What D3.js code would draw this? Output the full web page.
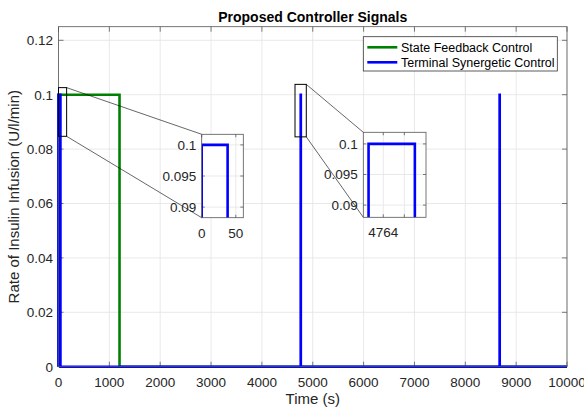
<!DOCTYPE html>
<html>
<head>
<meta charset="utf-8">
<script src="https://cdn.jsdelivr.net/npm/d3@7"></script>
<style>
  body { margin: 0; background: #fff; }
  svg { display: block; font-family: 'Liberation Sans', Arial, sans-serif; }
</style>
</head>
<body>
<div class="chart"></div>
<script>
// Data

const timeTicks = [0, 1000, 2000, 3000, 4000, 5000, 6000, 7000, 8000, 9000, 10000]
const rateTicks = [0, 0.02, 0.04, 0.06, 0.08, 0.1, 0.12]

const stateFeedbackT = [0, 0, 1200, 1200, 10000]
const stateFeedbackU = [0, 0.1, 0.1, 0, 0]

const synergeticT = [0, 0, 38, 38, 4763.3, 4763.3, 4765.5, 4765.5, 8675, 8675, 8677, 8677, 10000]
const synergeticU = [0, 0.1, 0.1, 0, 0, 0.1, 0.1, 0, 0, 0.1, 0.1, 0, 0]

const seriesNames = ['State Feedback Control', 'Terminal Synergetic Control']

// zoom boxes on the main axes: [t0, t1, u0, u1]
const zoomBox1 = [0, 160, 0.0847, 0.1026]
const zoomBox2 = [4651, 4873, 0.0845, 0.1038]

// inset 1
const inset1T = [0, 61]
const inset1U = [0.0883, 0.1017]
const inset1TTicks = [0, 50]
const inset1UTicks = [0.09, 0.095, 0.1]

// inset 2
const inset2T = [4763.05, 4766.03]
const inset2U = [0.088, 0.1019]
const inset2TTicks = [4764, 4765]
const inset2TLabels = ['4764', '']
const inset2UTicks = [0.09, 0.095, 0.1]

// Chart

const W = 584
const H = 409
const plot = {left: 58.5, right: 567, top: 26.7, bottom: 366.7}

const axisColor = '#262626'
const gridColor = '#e3e3e3'
const green = '#008000'
const blue = '#0000ff'

const svg = d3.select('.chart')
  .append('svg')
    .attr('width', W)
    .attr('height', H)

const x = d3.scaleLinear().domain([0, 10000]).range([plot.left, plot.right])
const y = d3.scaleLinear().domain([0, 0.125]).range([plot.bottom, plot.top])

const fmt = (v) => d3.format('~g')(+v.toFixed(4))

const zip = (ts, us) => ts.map((t, i) => [t, us[i]])

const drawAxes = (g, sx, sy, xt, yt, xl, yl, tickLen) => {
  const [x0, x1] = sx.range()
  const [y0, y1] = sy.range()

  g.append('rect')
      .attr('x', x0).attr('y', y1)
      .attr('width', x1 - x0).attr('height', y0 - y1)
      .attr('fill', '#fff')

  g.append('g').selectAll('line')
      .data(xt)
    .enter().append('line')
      .attr('x1', (d) => sx(d)).attr('x2', (d) => sx(d))
      .attr('y1', y0).attr('y2', y1)
      .attr('stroke', gridColor).attr('stroke-width', 0.8)

  g.append('g').selectAll('line')
      .data(yt)
    .enter().append('line')
      .attr('x1', x0).attr('x2', x1)
      .attr('y1', (d) => sy(d)).attr('y2', (d) => sy(d))
      .attr('stroke', gridColor).attr('stroke-width', 0.8)

  const ticks = g.append('g')
    .attr('stroke', axisColor).attr('stroke-width', 0.6)

  xt.forEach((d) => {
    ticks.append('line').attr('x1', sx(d)).attr('x2', sx(d)).attr('y1', y0).attr('y2', y0 - tickLen)
    ticks.append('line').attr('x1', sx(d)).attr('x2', sx(d)).attr('y1', y1).attr('y2', y1 + tickLen)
  })
  yt.forEach((d) => {
    ticks.append('line').attr('x1', x0).attr('x2', x0 + tickLen).attr('y1', sy(d)).attr('y2', sy(d))
    ticks.append('line').attr('x1', x1).attr('x2', x1 - tickLen).attr('y1', sy(d)).attr('y2', sy(d))
  })

  g.append('g').selectAll('text')
      .data(xt)
    .enter().append('text')
      .attr('x', (d) => sx(d))
      .attr('y', y0 + 20)
      .attr('text-anchor', 'middle')
      .attr('font-size', 13.5)
      .attr('fill', axisColor)
      .text((d, i) => xl ? xl[i] : fmt(d))

  g.append('g').selectAll('text')
      .data(yt)
    .enter().append('text')
      .attr('x', x0 - 5.5)
      .attr('y', (d) => sy(d) + 4.8)
      .attr('text-anchor', 'end')
      .attr('font-size', 13.5)
      .attr('fill', axisColor)
      .text((d, i) => yl ? yl[i] : fmt(d))
}

const drawBox = (g, sx, sy) => {
  const [x0, x1] = sx.range()
  const [y0, y1] = sy.range()
  g.append('rect')
      .attr('x', x0).attr('y', y1)
      .attr('width', x1 - x0).attr('height', y0 - y1)
      .attr('fill', 'none')
      .attr('stroke', '#555').attr('stroke-width', 0.8)
}

const drawLine = (g, sx, sy, pts, color, clipId) => {
  g.append('path')
      .datum(pts)
      .attr('clip-path', clipId ? `url(#${clipId})` : null)
      .attr('d', d3.line().x((d) => sx(d[0])).y((d) => sy(d[1])))
      .attr('fill', 'none')
      .attr('stroke', color)
      .attr('stroke-width', 2.6)
}

// Main axes
const main = svg.append('g')
drawAxes(main, x, y, timeTicks, rateTicks, null, null, 5)
drawLine(main, x, y, zip(stateFeedbackT, stateFeedbackU), green)
drawLine(main, x, y, zip(synergeticT, synergeticU), blue)
drawBox(main, x, y)

// Zoom rectangles + connectors
const insets = [
  {box: zoomBox1, t: inset1T, u: inset1U, tt: inset1TTicks, ut: inset1UTicks, tl: null,
    px: [201.7, 243.3], py: [217.7, 134.3]},
  {box: zoomBox2, t: inset2T, u: inset2U, tt: inset2TTicks, ut: inset2UTicks, tl: inset2TLabels,
    px: [363.3, 426], py: [217.3, 132.3]},
]

const defs = svg.append('defs')

insets.forEach((ins) => {
  const [t0, t1, u0, u1] = ins.box
  svg.append('rect')
      .attr('x', x(t0)).attr('y', y(u1))
      .attr('width', x(t1) - x(t0)).attr('height', y(u0) - y(u1))
      .attr('fill', 'none')
      .attr('stroke', '#000').attr('stroke-width', 1)

  svg.append('line')
      .attr('x1', x(t1)).attr('y1', y(u1))
      .attr('x2', ins.px[0]).attr('y2', ins.py[1])
      .attr('stroke', '#000').attr('stroke-width', 0.6)
  svg.append('line')
      .attr('x1', x(t1)).attr('y1', y(u0))
      .attr('x2', ins.px[0]).attr('y2', ins.py[0])
      .attr('stroke', '#000').attr('stroke-width', 0.6)
})

// insets show only the synergetic control signal
insets.forEach((ins, k) => {
  const sx = d3.scaleLinear().domain(ins.t).range(ins.px)
  const sy = d3.scaleLinear().domain(ins.u).range(ins.py)
  const g = svg.append('g')
  const clipId = `clip-inset-${k}`
  defs.append('clipPath').attr('id', clipId)
    .append('rect')
      .attr('x', ins.px[0]).attr('y', ins.py[1])
      .attr('width', ins.px[1] - ins.px[0]).attr('height', ins.py[0] - ins.py[1])

  drawAxes(g, sx, sy, ins.tt, ins.ut, ins.tl, null, 3)
  drawLine(g, sx, sy, zip(synergeticT, synergeticU), blue, clipId)
  drawBox(g, sx, sy)
})

// Title and axis labels
svg.append('text')
    .attr('x', (plot.left + plot.right) / 2)
    .attr('y', 22)
    .attr('text-anchor', 'middle')
    .attr('font-size', 14)
    .attr('font-weight', 'bold')
    .attr('fill', '#000')
    .text('Proposed Controller Signals')

svg.append('text')
    .attr('x', (plot.left + plot.right) / 2)
    .attr('y', 404)
    .attr('text-anchor', 'middle')
    .attr('font-size', 15)
    .attr('fill', axisColor)
    .text('Time (s)')

svg.append('text')
    .attr('transform', `translate(19,${(plot.top + plot.bottom) / 2}) rotate(-90)`)
    .attr('text-anchor', 'middle')
    .attr('font-size', 15)
    .attr('fill', axisColor)
    .text('Rate of Insulin Infusion (U/l/min)')

// Legend
const legend = svg.append('g')
legend.append('rect')
    .attr('x', 363.3).attr('y', 36.7)
    .attr('width', 194).attr('height', 34.3)
    .attr('fill', '#fff')
    .attr('stroke', '#333').attr('stroke-width', 0.8)

const legendColors = [green, blue]
seriesNames.forEach((name, i) => {
  const ly = 47.3 + i * 15
  legend.append('line')
      .attr('x1', 367.3).attr('x2', 397.3)
      .attr('y1', ly).attr('y2', ly)
      .attr('stroke', legendColors[i]).attr('stroke-width', 2.6)
  legend.append('text')
      .attr('x', 401).attr('y', ly + 4.3)
      .attr('font-size', 12.5)
      .attr('fill', '#000')
      .text(name)
})
</script>
</body>
</html>
